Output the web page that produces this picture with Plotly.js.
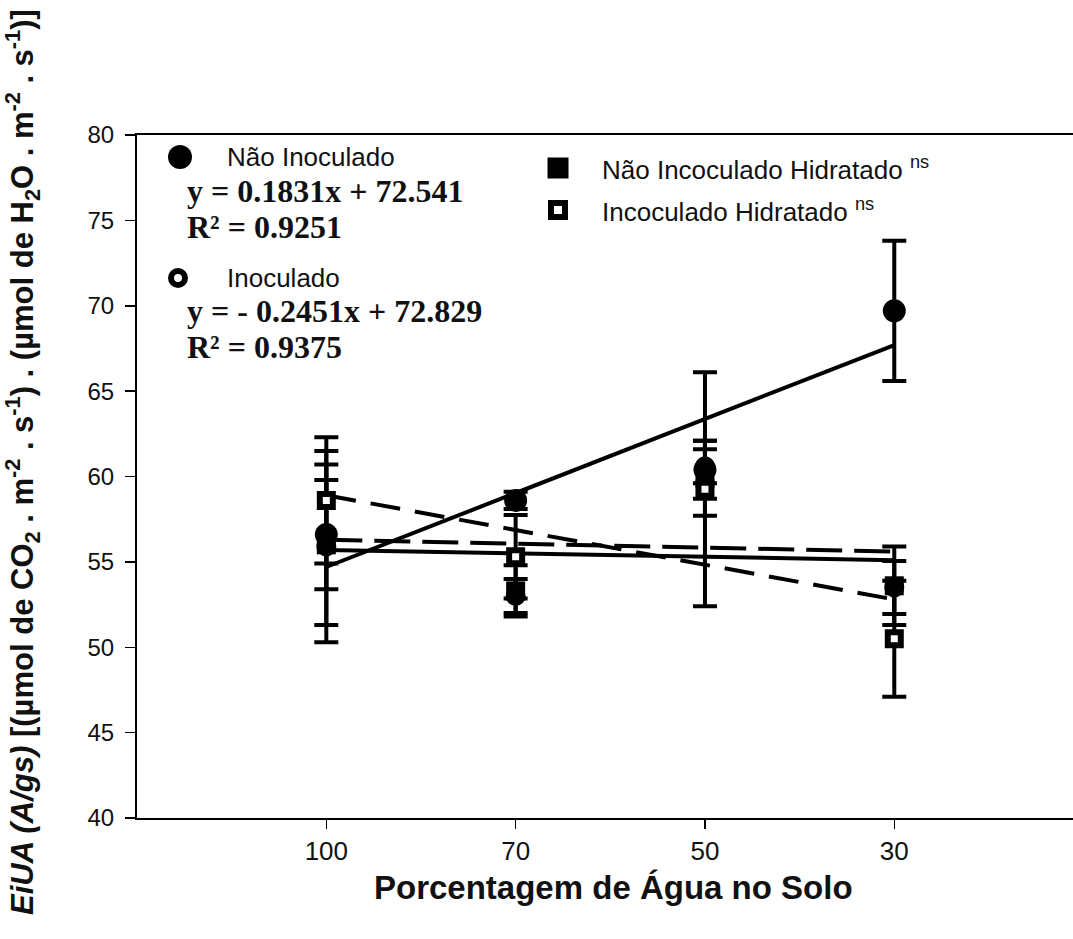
<!DOCTYPE html>
<html>
<head>
<meta charset="utf-8">
<script src="https://cdn.plot.ly/plotly-3.0.1.min.js"></script>
<style>html,body{margin:0;padding:0;background:#fff;}#chart{width:1073px;height:939px;}</style>
</head>
<body>
<div id="chart"></div>
<script>
// Categories (soil water percentage)
const categories = ['100', '70', '50', '30'];

// Series means
const naoInoculado = [56.6, 58.6, 60.4, 69.7];
const naoInoculadoErr = [3.2, 0.5, 1.7, 4.1];

const inoculado = [55.9, 53.0, 60.6, 53.5];
const inoculadoErr = [5.6, 1.0, 1.0, 1.55];

const naoIncHidratado = [56.0, 53.3, 59.9, 53.6];
const naoIncHidratadoErr = [4.7, 1.5, 2.2, 2.3];

const incHidratado = [58.6, 55.3, 59.25, 50.5];
const incHidratadoErr = [3.7, 2.45, 6.85, 3.4];

// Fitted / mean lines (values at 100 and 30)
const lineEnds = ['100', '30'];
const trendNaoInoculado = [54.7, 67.7];
const trendInoculado = [58.9, 52.8];
const trendFlatDashed = [56.3, 55.6];
const trendFlatSolid = [55.7, 55.1];

const BLACK = '#000';
const eb = arr => ({type: 'data', array: arr, visible: true, color: BLACK, thickness: 4, width: 12});

const traces = [
  {x: lineEnds, y: trendNaoInoculado, mode: 'lines', line: {color: BLACK, width: 4}, hoverinfo: 'skip'},
  {x: lineEnds, y: trendInoculado, mode: 'lines', line: {color: BLACK, width: 4, dash: '30px,15px'}, hoverinfo: 'skip'},
  {x: lineEnds, y: trendFlatDashed, mode: 'lines', line: {color: BLACK, width: 4, dash: '36px,12px'}, hoverinfo: 'skip'},
  {x: lineEnds, y: trendFlatSolid, mode: 'lines', line: {color: BLACK, width: 4}, hoverinfo: 'skip'},
  {name: 'Inoculado', x: categories, y: inoculado, mode: 'markers', error_y: eb(inoculadoErr),
   marker: {symbol: 'circle', size: 14, color: '#fff', line: {color: BLACK, width: 6}}},
  {name: 'Não Inoculado', x: categories, y: naoInoculado, mode: 'markers', error_y: eb(naoInoculadoErr),
   marker: {symbol: 'circle', size: 23, color: BLACK}},
  {name: 'Não Incoculado Hidratado', x: categories, y: naoIncHidratado, mode: 'markers', error_y: eb(naoIncHidratadoErr),
   marker: {symbol: 'square', size: 19, color: BLACK}},
  {name: 'Incoculado Hidratado', x: categories, y: incHidratado, mode: 'markers', error_y: eb(incHidratadoErr),
   marker: {symbol: 'square', size: 13, color: '#fff', line: {color: BLACK, width: 6}}}
];

const L = 137, T = 135, W = 936, H = 683;
const px = v => (v - L) / W;
const py = v => (T + H - v) / H;

function circ(cx, cy, d, fill, lw) {
  return {type: 'circle', xref: 'paper', yref: 'paper', xsizemode: 'pixel', ysizemode: 'pixel',
    xanchor: px(cx), yanchor: py(cy), x0: -d / 2, x1: d / 2, y0: -d / 2, y1: d / 2,
    fillcolor: fill, line: {color: BLACK, width: lw}};
}
function sq(cx, cy, d, fill, lw) {
  return {type: 'rect', xref: 'paper', yref: 'paper', xsizemode: 'pixel', ysizemode: 'pixel',
    xanchor: px(cx), yanchor: py(cy), x0: -d / 2, x1: d / 2, y0: -d / 2, y1: d / 2,
    fillcolor: fill, line: {color: BLACK, width: lw}};
}

const sans = 'Liberation Sans, Arial, sans-serif';
const serif = 'Liberation Serif, Times New Roman, serif';

function ann(text, x, y, font, extra) {
  return Object.assign({text: text, xref: 'paper', yref: 'paper', x: px(x), y: py(y),
    xanchor: 'left', yanchor: 'middle', showarrow: false, font: font}, extra || {});
}

const annotations = [
  ann('Não Inoculado', 225, 157, {family: sans, size: 26, color: '#111'}),
  ann('<b>y = 0.1831x + 72.541</b>', 185, 191, {family: serif, size: 32, color: '#111'}),
  ann('<b>R² = 0.9251</b>', 185, 227, {family: serif, size: 32, color: '#111'}),
  ann('Inoculado', 225, 278, {family: sans, size: 26, color: '#111'}),
  ann('<b>y = - 0.2451x + 72.829</b>', 185, 311, {family: serif, size: 32, color: '#111'}),
  ann('<b>R² = 0.9375</b>', 185, 347, {family: serif, size: 32, color: '#111'}),
  ann('Não Incoculado Hidratado <sup>ns</sup>', 600, 168, {family: sans, size: 26, color: '#111'}),
  ann('Incoculado Hidratado <sup>ns</sup>', 600, 210, {family: sans, size: 26, color: '#111'}),
  ann('<b>Porcentagem de Água no Solo</b>', 613, 887, {family: sans, size: 33, color: '#111'}, {xanchor: 'center'}),
  ann('<b><i>EiUA (A/gs)</i> [(µmol de CO<sub>2</sub> . m<sup>-2</sup> . s<sup>-1</sup>) . (µmol de H<sub>2</sub>O . m<sup>-2</sup> . s<sup>-1</sup>)]</b>',
      22, 462, {family: sans, size: 31, color: '#111'}, {xanchor: 'center', textangle: -90})
];

const shapes = [
  circ(180, 157, 24, BLACK, 0),
  circ(178, 278, 14, '#fff', 6),
  sq(558, 168, 21, BLACK, 0),
  sq(558, 210, 14, '#fff', 6)
];

const layout = {
  width: 1073, height: 939,
  margin: {l: L, r: 1073 - L - W, t: T, b: 939 - T - H},
  paper_bgcolor: '#fff', plot_bgcolor: '#fff',
  showlegend: false,
  xaxis: {
    type: 'category', categoryorder: 'array', categoryarray: categories,
    range: [-1, 3.944], showgrid: false, zeroline: false,
    showline: true, linecolor: BLACK, linewidth: 2, mirror: true,
    ticks: 'outside', ticklen: 9, tickwidth: 1.5, tickcolor: BLACK,
    tickfont: {family: sans, size: 26, color: '#111'}
  },
  yaxis: {
    range: [40, 80], dtick: 5, tick0: 40, showgrid: false, zeroline: false,
    showline: true, linecolor: BLACK, linewidth: 2,
    ticks: 'outside', ticklen: 10, tickwidth: 1.5, tickcolor: BLACK,
    ticklabelstandoff: 6,
    tickfont: {family: sans, size: 24, color: '#111'}
  },
  annotations: annotations,
  shapes: shapes
};

Plotly.newPlot('chart', traces, layout, {displayModeBar: false, staticPlot: true});
</script>
</body>
</html>
